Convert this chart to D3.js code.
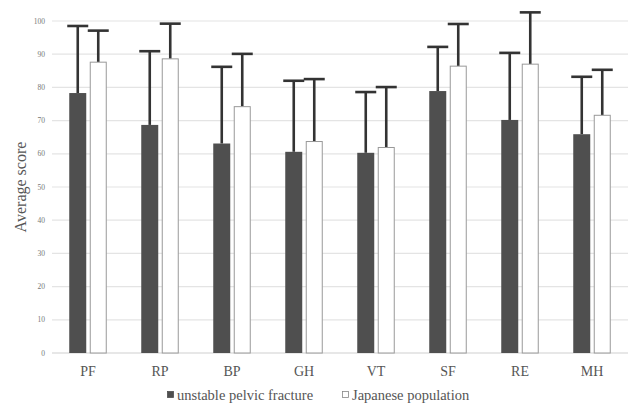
<!DOCTYPE html>
<html>
  <head>
    <script type="text/javascript" src="https://cdn.jsdelivr.net/npm/d3@7/dist/d3.min.js"></script>
    <style>
      body { margin: 0; background: #fff; }
      #chart { width: 629px; height: 408px; }
      svg text { font-family: "Liberation Serif", "Times New Roman", "DejaVu Serif", serif; }
      .tick-label { font-size: 7.5px; fill: #777; }
      .cat-label { font-size: 14px; fill: #555; }
    </style>
  </head>
  <body>
    <div id="chart"></div>
  </body>
  <script>
  // data
  var categories = ['PF', 'RP', 'BP', 'GH', 'VT', 'SF', 'RE', 'MH'];
  var seriesNames = ['unstable pelvic fracture', 'Japanese population'];
  var fractureMean = [78.3, 68.7, 63.1, 60.6, 60.3, 78.9, 70.2, 65.9];
  var fractureUpper = [98.5, 90.9, 86.2, 82.0, 78.6, 92.2, 90.4, 83.2];
  var japanMean = [87.6, 88.6, 74.2, 63.7, 61.9, 86.4, 87.0, 71.6];
  var japanUpper = [97.1, 99.2, 90.1, 82.5, 80.1, 99.1, 102.6, 85.3];
  var yTicks = [0, 10, 20, 30, 40, 50, 60, 70, 80, 90, 100];

  (function (d3) {
    'use strict';

    var width = 629, height = 408;
    var svg = d3.select('#chart').append('svg')
      .attr('width', width).attr('height', height);

    var x = d3.scaleBand().domain(categories).range([52, 628]);
    var y = d3.scaleLinear().domain([0, 100]).range([353, 21]);
    var barW = 17, gap = 3.5;

    // gridlines
    svg.selectAll('.grid').data(yTicks).enter().append('line')
      .attr('x1', 52).attr('x2', 628)
      .attr('y1', function (d) { return y(d); })
      .attr('y2', function (d) { return y(d); })
      .attr('stroke', function (d) { return d === 0 ? '#d0d0d0' : '#e4e4e4'; })
      .attr('stroke-width', 1.2);

    svg.selectAll('.tick-label').data(yTicks).enter().append('text')
      .attr('class', 'tick-label')
      .attr('x', 45).attr('y', function (d) { return y(d); })
      .attr('dy', '0.35em').attr('text-anchor', 'end')
      .text(function (d) { return d; });

    // build rows
    var rows = categories.map(function (c, i) {
      return [
        { cat: c, s: 0, mean: fractureMean[i], upper: fractureUpper[i] },
        { cat: c, s: 1, mean: japanMean[i], upper: japanUpper[i] }
      ];
    });
    var flat = [].concat.apply([], rows);

    function barX(d) {
      var c = x(d.cat) + x.bandwidth() / 2;
      return d.s === 0 ? c - gap / 2 - barW : c + gap / 2;
    }

    // error bars (drawn first, bar covers lower part)
    var err = svg.selectAll('.err').data(flat).enter().append('g');
    err.append('line')
      .attr('x1', function (d) { return barX(d) + barW / 2; })
      .attr('x2', function (d) { return barX(d) + barW / 2; })
      .attr('y1', function (d) { return y(d.mean); })
      .attr('y2', function (d) { return y(d.upper); })
      .attr('stroke', '#333').attr('stroke-width', 2.6);
    err.append('line')
      .attr('x1', function (d) { return barX(d) + barW / 2 - 10.5; })
      .attr('x2', function (d) { return barX(d) + barW / 2 + 10.5; })
      .attr('y1', function (d) { return y(d.upper); })
      .attr('y2', function (d) { return y(d.upper); })
      .attr('stroke', '#333').attr('stroke-width', 2.6);

    svg.selectAll('.bar').data(flat).enter().append('rect')
      .attr('x', function (d) { return barX(d) + (d.s === 1 ? 0.5 : 0); })
      .attr('y', function (d) { return y(d.mean); })
      .attr('width', function (d) { return d.s === 1 ? barW - 1 : barW; })
      .attr('height', function (d) { return y(0) - y(d.mean); })
      .attr('fill', function (d) { return d.s === 0 ? '#4f4f4f' : '#fff'; })
      .attr('stroke', function (d) { return d.s === 0 ? 'none' : '#999'; })
      .attr('stroke-width', 1);

    // category labels
    svg.selectAll('.cat-label').data(categories).enter().append('text')
      .attr('class', 'cat-label')
      .attr('x', function (d) { return x(d) + x.bandwidth() / 2; })
      .attr('y', 371).attr('dy', '0.35em')
      .attr('text-anchor', 'middle')
      .text(function (d) { return d; });

    // y axis title
    svg.append('text')
      .attr('transform', 'translate(20,187) rotate(-90)')
      .attr('text-anchor', 'middle').attr('dy', '0.35em')
      .style('font-size', '16px').style('fill', '#555')
      .text('Average score');

    // legend
    var legendX = [167, 342];
    var legend = svg.selectAll('.legend').data(seriesNames).enter().append('g')
      .attr('class', 'legend')
      .attr('transform', function (d, i) { return 'translate(' + legendX[i] + ',395)'; });
    legend.append('rect')
      .attr('x', 0.5).attr('y', -3.5).attr('width', 6).attr('height', 6)
      .attr('fill', function (d, i) { return i === 0 ? '#4f4f4f' : '#fff'; })
      .attr('stroke', function (d, i) { return i === 0 ? '#4f4f4f' : '#888'; })
      .attr('stroke-width', 0.8);
    legend.append('text')
      .attr('x', 10).attr('dy', '0.35em')
      .style('font-size', '14.5px').style('fill', '#555')
      .text(function (d) { return d; });
  })(window.d3);
  </script>
</html>
